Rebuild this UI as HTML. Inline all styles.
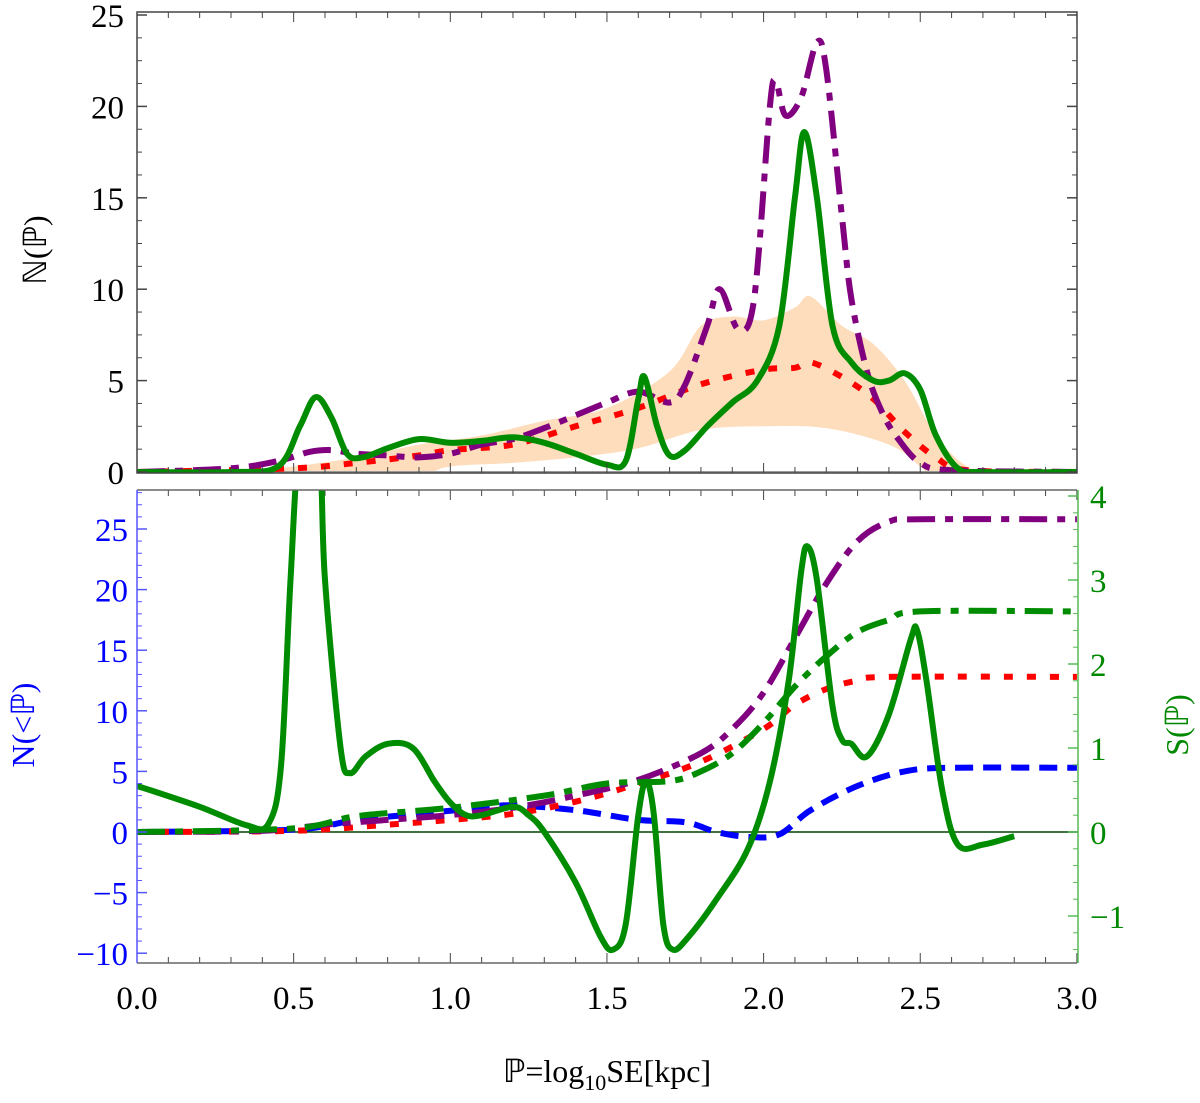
<!DOCTYPE html>
<html><head><meta charset="utf-8"><style>
body{margin:0;background:#fff}
svg text{font-family:"Liberation Serif",serif}
</style></head><body>
<svg id="c" width="1200" height="1098" viewBox="0 0 1200 1098" xmlns="http://www.w3.org/2000/svg">
<defs>
<clipPath id="clipT"><rect x="137" y="12" width="940" height="461"/></clipPath>
<clipPath id="clipB"><rect x="137" y="490" width="940" height="473"/></clipPath>
</defs>
<g id="topPanel"></g>
<g id="botPanel"></g>
<text x="46" y="250" font-size="32" transform="rotate(-90 46 250)" text-anchor="middle">ℕ(ℙ)</text>
<text x="34" y="725" font-size="32" fill="#0000ff" transform="rotate(-90 34 725)" text-anchor="middle">N(&lt;ℙ)</text>
<text x="1188" y="725" font-size="32" fill="#008800" transform="rotate(-90 1188 725)" text-anchor="middle">S(ℙ)</text>
<text x="607" y="1082" font-size="32" text-anchor="middle">ℙ=log<tspan font-size="22" dy="8">10</tspan><tspan dy="-8">SE[kpc]</tspan></text>
</svg>
<script>
const xTicks=[0,0.5,1.0,1.5,2.0,2.5,3.0];
const topTicks=[0,5,10,15,20,25];
const leftTicks=[-10,-5,0,5,10,15,20,25];
const rightTicks=[-1,0,1,2,3,4];
const tGreenX=[0,0.3,0.45,0.52,0.57,0.62,0.67,0.72,0.8,0.9,1.0,1.1,1.2,1.3,1.4,1.5,1.56,1.6,1.62,1.66,1.7,1.75,1.82,1.9,1.98,2.05,2.1,2.13,2.17,2.22,2.28,2.35,2.4,2.45,2.5,2.55,2.62,2.7,3.0];
const tGreenY=[0,0,0.3,2.5,4.1,3,1,0.8,1.3,1.8,1.6,1.7,1.9,1.6,1.0,0.4,0.6,4,5.2,2.5,0.9,1.2,2.5,3.8,5.0,8,15,18.6,15,8,6,5.0,5.0,5.4,4.5,2,0.2,0,0];
const tPurpleX=[0,0.3,0.45,0.55,0.62,0.7,0.8,0.9,1.0,1.1,1.2,1.3,1.4,1.5,1.6,1.7,1.75,1.82,1.86,1.92,1.97,2.02,2.04,2.07,2.12,2.17,2.2,2.25,2.28,2.33,2.38,2.43,2.5,2.6,3.0];
const tPurpleY=[0,0.2,0.6,1.1,1.2,1.0,0.9,0.8,1.0,1.5,1.8,2.4,3.1,3.8,4.4,3.8,4.8,8,10,7.8,9.5,20,21.3,19.5,20.5,23.5,22,14,9.5,5.5,3.2,1.8,0.5,0.1,0];
const tRedX=[0,0.5,0.7,0.9,1.0,1.2,1.4,1.6,1.8,2.0,2.1,2.15,2.25,2.35,2.45,2.55,2.65,3.0];
const tRedY=[0,0.2,0.5,0.9,1.2,1.5,2.5,3.5,4.8,5.6,5.7,6.0,5.2,4.0,2.2,0.8,0.1,0];
const bandUpX=[0.3,0.5,0.7,0.9,1.1,1.3,1.5,1.7,1.8,1.9,2.0,2.1,2.15,2.25,2.35,2.45,2.55,2.65,2.75];
const bandUpY=[0,0.3,0.8,1.5,2.0,2.8,3.5,5.5,8,8.5,8.3,9,9.6,8,7,5,2,0.3,0];
const bandLoX=[0.3,0.5,0.7,0.9,1.0,1.2,1.4,1.6,1.8,2.0,2.2,2.4,2.5,2.55,2.65,2.75];
const bandLoY=[0,-0.1,-0.3,-0.2,0.3,0.5,0.8,1.3,2.3,2.5,2.4,1.5,0.3,-0.5,-0.3,0];
const bPurpleX=[0,0.4,0.6,0.8,1.0,1.2,1.4,1.6,1.8,1.9,2.0,2.1,2.2,2.3,2.4,2.5,3.0];
const bPurpleY=[0,0.1,0.6,1.0,1.4,2.0,3.0,4.3,6.5,8.5,11.5,16,20.5,24,25.6,25.8,25.8];
const bRedX=[0,0.5,0.8,1.0,1.2,1.4,1.6,1.8,2.0,2.1,2.2,2.3,2.4,3.0];
const bRedY=[0,0.1,0.6,1.0,1.5,2.5,4.0,5.8,8.5,10.5,11.8,12.5,12.8,12.8];
const bBlueX=[0,0.5,0.7,0.9,1.1,1.2,1.4,1.6,1.75,1.85,1.95,2.05,2.15,2.3,2.45,2.6,3.0];
const bBlueY=[0,0.2,1.0,1.5,2.0,2.2,1.8,1.0,0.8,0,-0.4,-0.2,1.8,3.8,5.0,5.3,5.3];
const bGreenDDX=[0,0.5,0.7,1.0,1.3,1.5,1.7,1.8,1.9,2.0,2.1,2.2,2.3,2.4,2.5,3.0];
const bGreenDDY=[0,0.3,1.3,2.0,3.0,4.0,4.2,5.0,6.5,9,12,14.5,16.5,17.5,18.2,18.2];
const sX=[0,0.2,0.35,0.42,0.46,0.49,0.52,0.58,0.6,0.65,0.68,0.73,0.8,0.88,0.95,1.0,1.05,1.1,1.2,1.25,1.3,1.4,1.48,1.52,1.56,1.6,1.625,1.65,1.68,1.71,1.76,1.85,1.95,2.02,2.08,2.12,2.14,2.17,2.22,2.25,2.28,2.33,2.4,2.47,2.49,2.52,2.57,2.62,2.7,2.8];
const sY=[0.55,0.3,0.08,0.1,0.8,3.0,4.6,4.6,3.0,1.0,0.7,0.9,1.05,1.0,0.6,0.35,0.2,0.2,0.3,0.2,0.0,-0.6,-1.25,-1.4,-1.1,0.2,0.6,0.2,-1.1,-1.4,-1.25,-0.8,-0.2,0.6,1.8,3.1,3.4,3.0,1.5,1.1,1.05,0.9,1.4,2.3,2.4,1.8,0.5,-0.15,-0.15,-0.05];

const NS='http://www.w3.org/2000/svg';
const X=v=>137+v*313.3;
const YT=v=>472-v*18.28;
const YL=v=>832-v*12.12;
const YR=v=>832-v*84;
function el(tag,attrs,parent){const e=document.createElementNS(NS,tag);for(const k in attrs)e.setAttribute(k,attrs[k]);parent.appendChild(e);return e;}
function pts(xs,ys,fy){return xs.map((x,i)=>[X(x),fy(ys[i])]);}
function smooth(p){let d='M'+p[0][0].toFixed(1)+','+p[0][1].toFixed(1);for(let i=0;i<p.length-1;i++){const p0=p[i-1]||p[i],p1=p[i],p2=p[i+1],p3=p[i+2]||p2;const c1=[p1[0]+(p2[0]-p0[0])/6,p1[1]+(p2[1]-p0[1])/6],c2=[p2[0]-(p3[0]-p1[0])/6,p2[1]-(p3[1]-p1[1])/6];d+='C'+c1.map(v=>v.toFixed(1))+' '+c2.map(v=>v.toFixed(1))+' '+p2.map(v=>v.toFixed(1));}return d;}
const topG=document.getElementById('topPanel'),botG=document.getElementById('botPanel');
const tg=el('g',{'clip-path':'url(#clipT)'},topG);
const up=pts(bandUpX,bandUpY,YT),lo=pts(bandLoX,bandLoY,YT).reverse();
const band=el('path',{d:smooth(up)+'L'+smooth(lo).slice(1)+'Z',fill:'#fdd9b5',opacity:0.9},tg);


const base=el('line',{x1:137,x2:1077,y1:YT(0),y2:YT(0),stroke:'#999','stroke-width':2},tg);


function line(g,xs,ys,fy,color,dash,name){const p=el('path',{d:smooth(pts(xs,ys,fy)),fill:'none',stroke:color,'stroke-width':6,'stroke-dasharray':dash},g);


return p;}
line(tg,tRedX,tRedY,YT,'#ff0000','9 14','top-red-dotted');
line(tg,tPurpleX,tPurpleY,YT,'#800080','28 10 8 10','top-purple-dashdot');
line(tg,tGreenX,tGreenY,YT,'#008c00','none','top-green-solid');
const fT=el('rect',{x:137,y:12,width:940,height:461,fill:'none',stroke:'#444','stroke-width':1.5},topG);


topTicks.forEach(t=>{const y=YT(t);el('line',{x1:137,x2:147,y1:y,y2:y,stroke:'#444','stroke-width':1.5},topG);el('line',{x1:1067,x2:1077,y1:y,y2:y,stroke:'#444','stroke-width':1.5},topG);const tx=el('text',{x:124,y:y+12,'font-size':33,'text-anchor':'end'},topG);tx.textContent=t;

});
for(let t=0;t<=25;t+=1.25){if(t%5){const y=YT(t);el('line',{x1:137,x2:142,y1:y,y2:y,stroke:'#444'},topG);el('line',{x1:1072,x2:1077,y1:y,y2:y,stroke:'#444'},topG);}}
for(let v=0;v<=3.001;v+=0.1){const x=X(v),L=Math.abs(v*2-Math.round(v*2))<1e-6?10:6;el('line',{x1:x,x2:x,y1:473,y2:473-L,stroke:'#444'},topG);el('line',{x1:x,x2:x,y1:12,y2:12+L,stroke:'#444'},topG);el('line',{x1:x,x2:x,y1:490,y2:490+L,stroke:'#444'},botG);el('line',{x1:x,x2:x,y1:963,y2:963-L,stroke:'#444'},botG);}
const bg=el('g',{'clip-path':'url(#clipB)'},botG);
const z=el('line',{x1:137,x2:1077,y1:YL(0),y2:YL(0),stroke:'#004400','stroke-width':1.5},bg);


line(bg,bBlueX,bBlueY,YL,'#0000ff','18 10','bottom-blue-dashed');
line(bg,bRedX,bRedY,YL,'#ff0000','9 14','bottom-red-dotted');
line(bg,bPurpleX,bPurpleY,YL,'#800080','28 10 8 10','bottom-purple-dashdot');
line(bg,bGreenDDX,bGreenDDY,YL,'#008c00','28 10 8 10','bottom-green-dashdot');
line(bg,sX,sY,YR,'#008c00','none','bottom-green-solid-S');
el('line',{x1:137,x2:1077,y1:490,y2:490,stroke:'#666','stroke-width':1.5},botG);
el('line',{x1:137,x2:1077,y1:963,y2:963,stroke:'#666','stroke-width':1.5},botG);
const la=el('line',{x1:137,x2:137,y1:490,y2:963,stroke:'#5555ff','stroke-width':1.5},botG);


const ra=el('line',{x1:1078,x2:1078,y1:490,y2:963,stroke:'#55bb55','stroke-width':1.5},botG);


leftTicks.forEach(t=>{const y=YL(t);el('line',{x1:137,x2:147,y1:y,y2:y,stroke:'#5555ff','stroke-width':1.5},botG);const tx=el('text',{x:128,y:y+12,'font-size':33,'text-anchor':'end',fill:'#0000ff'},botG);tx.textContent=t<0?'\u2212'+(-t):t;

});
for(let t=-10;t<=28;t+=1){if(t%5){const y=YL(t);el('line',{x1:137,x2:142,y1:y,y2:y,stroke:'#5555ff'},botG);}}
rightTicks.forEach(t=>{const y=YR(t);el('line',{x1:1068,x2:1078,y1:y,y2:y,stroke:'#55bb55','stroke-width':1.5},botG);const tx=el('text',{x:1090,y:y+12,'font-size':33,fill:'#008800'},botG);tx.textContent=t<0?'\u2212'+(-t):t;

});
for(let t=-1.4;t<=4.01;t+=0.2){if(Math.abs(t-Math.round(t))>0.05){const y=YR(t);el('line',{x1:1073,x2:1078,y1:y,y2:y,stroke:'#55bb55'},botG);}}
xTicks.forEach(t=>{const tx=el('text',{x:X(t),y:1009,'font-size':33,'text-anchor':'middle'},botG);tx.textContent=t.toFixed(1);

});
</script>
</body></html>
